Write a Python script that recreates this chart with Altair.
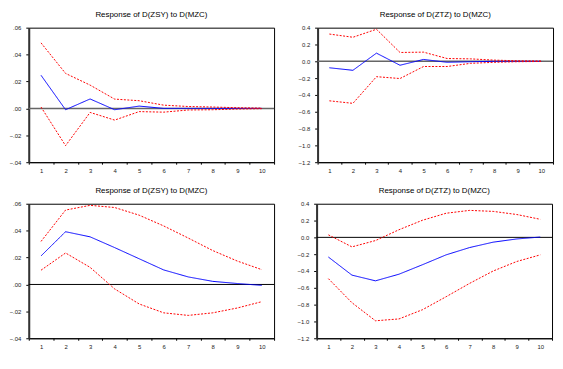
import altair as alt
import pandas as pd

periods = list(range(1, 11))

# Top-left: Response of D(ZSY) to D(MZC)
p1_resp = [0.0246, -0.001, 0.007, -0.001, 0.0017, 0.0, 0.0, 0.0, 0.0, 0.0]
p1_up = [0.0487, 0.026, 0.0173, 0.0069, 0.0057, 0.0024, 0.0014, 0.001, 0.0005, 0.0002]
p1_lo = [0.001, -0.0277, -0.003, -0.0087, -0.0024, -0.0028, -0.0012, -0.001, -0.0005, -0.0002]

# Top-right: Response of D(ZTZ) to D(MZC)
p2_resp = [-0.077, -0.107, 0.097, -0.047, 0.022, -0.012, -0.005, 0.0, 0.0, 0.0]
p2_up = [0.324, 0.286, 0.381, 0.105, 0.109, 0.033, 0.029, 0.014, 0.006, 0.003]
p2_lo = [-0.47, -0.50, -0.183, -0.205, -0.062, -0.062, -0.024, -0.012, -0.005, -0.002]

# Bottom-left: Response of D(ZSY) to D(MZC)
p3_resp = [0.0212, 0.0392, 0.0354, 0.0274, 0.0191, 0.0108, 0.0056, 0.0023, 0.0007, -0.0007]
p3_up = [0.032, 0.0553, 0.0588, 0.0572, 0.0515, 0.0435, 0.0345, 0.0252, 0.0174, 0.011]
p3_lo = [0.0106, 0.0234, 0.0127, -0.0033, -0.0145, -0.0211, -0.023, -0.0211, -0.0175, -0.0128]

# Bottom-right: Response of D(ZTZ) to D(MZC)
p4_resp = [-0.234, -0.449, -0.517, -0.438, -0.325, -0.208, -0.121, -0.057, -0.019, 0.004]
p4_up = [0.030, -0.113, -0.038, 0.091, 0.204, 0.287, 0.321, 0.309, 0.272, 0.215]
p4_lo = [-0.491, -0.777, -0.992, -0.970, -0.860, -0.706, -0.547, -0.40, -0.287, -0.208]

zsy_ticks = [-0.04, -0.02, 0.0, 0.02, 0.04, 0.06]
ztz_ticks = [-1.2, -1.0, -0.8, -0.6, -0.4, -0.2, 0.0, 0.2, 0.4]

title_zsy = "Response of D(ZSY) to D(MZC)"
title_ztz = "Response of D(ZTZ) to D(MZC)"

H = 136


def panel(title, resp, up, lo, domain, ticks, label_expr, zero_color, zero_width, w):
    df = pd.DataFrame({
        "period": periods * 3,
        "value": resp + up + lo,
        "series": ["resp"] * 10 + ["upper"] * 10 + ["lower"] * 10,
    })
    x = alt.X(
        "period:O",
        scale=alt.Scale(type="band", paddingInner=0, paddingOuter=0),
        axis=alt.Axis(title=None, labelAngle=0, tickBand="extent", grid=False,
                      labelOverlap=False, tickSize=2, labelPadding=3,
                      labelFontSize=6, labelFont="Liberation Sans",
                      labelColor="#222222", domainColor="black", tickColor="black"),
    )

    def yenc():
        return alt.Y(
            "value:Q",
            scale=alt.Scale(domain=domain, nice=False, zero=False),
            axis=alt.Axis(title=None, values=ticks, labelExpr=label_expr, grid=False,
                          labelOverlap=False, labelFlush=False, tickSize=3,
                          labelPadding=5, domainWidth=2, domainColor="#333333",
                          labelFontSize=6, labelFont="Liberation Sans",
                          labelColor="#222222", tickColor="black"),
        )

    zero = alt.Chart(pd.DataFrame({"value": [0.0]})).mark_rule(
        color=zero_color, strokeWidth=zero_width
    ).encode(y=yenc())
    lines = alt.Chart(df).mark_line(strokeWidth=1).encode(
        x=x,
        y=yenc(),
        color=alt.Color(
            "series:N",
            scale=alt.Scale(domain=["resp", "upper", "lower"],
                            range=["#0000ff", "#ff0000", "#ff0000"]),
            legend=None,
        ),
        strokeDash=alt.StrokeDash(
            "series:N",
            scale=alt.Scale(domain=["resp", "upper", "lower"],
                            range=[[1, 0], [2, 1.5], [2, 1.5]]),
            legend=None,
        ),
    )
    return alt.layer(zero, lines).properties(
        width=w, height=H,
        title=alt.TitleParams(title, fontSize=8, font="Liberation Sans",
                              fontWeight="normal", color="black", offset=6),
    )


zsy_expr = "replace(format(datum.value, '.2f'), '0.', '.')"
ztz_expr = "format(datum.value, '.1f')"

c1 = panel(title_zsy, p1_resp, p1_up, p1_lo, [-0.04, 0.06], zsy_ticks, zsy_expr, "#666666", 1.5, 248)
c2 = panel(title_ztz, p2_resp, p2_up, p2_lo, [-1.2, 0.4], ztz_ticks, ztz_expr, "#666666", 1.5, 238)
c3 = panel(title_zsy, p3_resp, p3_up, p3_lo, [-0.04, 0.06], zsy_ticks, zsy_expr, "#000000", 1, 248)
c4 = panel(title_ztz, p4_resp, p4_up, p4_lo, [-1.2, 0.4], ztz_ticks, ztz_expr, "#000000", 1, 238)

chart = alt.vconcat(
    alt.hconcat(c1, c2, spacing=21),
    alt.hconcat(c3, c4, spacing=21),
    spacing=12,
).properties(
    padding={"left": 0, "top": 0, "right": 0, "bottom": 0},
    background="white",
).configure_view(
    stroke="black", strokeWidth=1
).configure_axis(
    labelFont="Liberation Sans", labelFontSize=6, labelColor="#222222",
    domainColor="black", tickColor="black", domainWidth=1, tickWidth=1,
)

chart.save("out.html", embed_options={"renderer": "svg", "actions": False})
